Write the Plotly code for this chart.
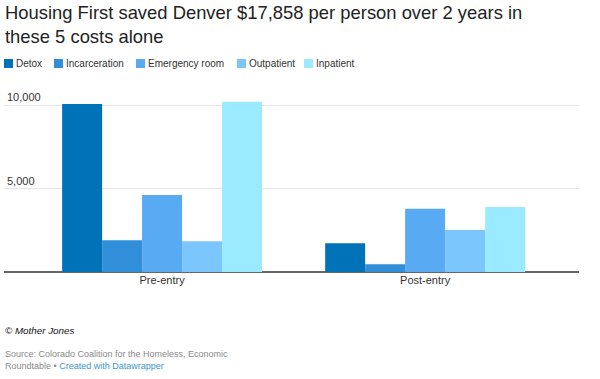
import plotly.graph_objects as go

categories = ["Pre-entry", "Post-entry"]
series_names = ["Detox", "Incarceration", "Emergency room", "Outpatient", "Inpatient"]
detox = [10060, 1720]
incarceration = [1900, 460]
emergency_room = [4610, 3790]
outpatient = [1840, 2510]
inpatient = [10200, 3890]
series_values = [detox, incarceration, emergency_room, outpatient, inpatient]
colors = ["#0072B8", "#318FDA", "#58AAF2", "#7CC6FE", "#9AEBFF"]
ytick_vals = [5000, 10000]
ytick_text = ["5,000", "10,000"]

W, H = 600, 379
L, R, T, B = 4, 21, 85, 107
FONT = "Liberation Sans"

fig = go.Figure()
for name, vals, col in zip(series_names, series_values, colors):
    fig.add_trace(go.Bar(x=categories, y=vals, name=name, marker_color=col,
                         marker_line_width=0, showlegend=False))

pw = W - L - R
ph = H - T - B
def px_x(p):
    return (p - L) / pw
def px_y(p):
    return (H - B - p) / ph

annotations = []
shapes = []
# title
annotations.append(dict(text="Housing First saved Denver $17,858 per person over 2 years in<br>these 5 costs alone",
                        xref="paper", yref="paper", x=px_x(3), y=px_y(0), xanchor="left", yanchor="top",
                        showarrow=False, align="left",
                        font=dict(family=FONT, size=18.4, color="#222")))
# legend
leg_x = [4, 54, 136, 237, 304]
for name, col, lx in zip(series_names, colors, leg_x):
    shapes.append(dict(type="rect", xref="paper", yref="paper",
                       x0=px_x(lx), x1=px_x(lx + 9), y0=px_y(68), y1=px_y(59),
                       fillcolor=col, line_width=0))
    annotations.append(dict(text=name, xref="paper", yref="paper", x=px_x(lx + 10), y=px_y(63.5),
                            xanchor="left", yanchor="middle", showarrow=False,
                            font=dict(family=FONT, size=10, color="#333")))
# footer
annotations.append(dict(text="<i>© Mother Jones</i>", xref="paper", yref="paper", x=px_x(3), y=px_y(330),
                        xanchor="left", yanchor="middle", showarrow=False,
                        font=dict(family=FONT, size=9.8, color="#111")))
annotations.append(dict(text="Source: Colorado Coalition for the Homeless, Economic<br>Roundtable • <span style='color:#3a97d4'>Created with Datawrapper</span>",
                        xref="paper", yref="paper", x=px_x(3), y=px_y(347), xanchor="left", yanchor="top",
                        showarrow=False, align="left",
                        font=dict(family=FONT, size=9, color="#8a8a8a")))

fig.update_layout(
    width=W, height=H, margin=dict(l=L, r=R, t=T, b=B),
    paper_bgcolor="white", plot_bgcolor="white",
    barmode="group", bargap=0.24, bargroupgap=0,
    font=dict(family=FONT, size=11, color="#333"),
    annotations=annotations, shapes=shapes,
    xaxis=dict(type="category", range=[-0.601, 1.585], showgrid=False, showline=False,
               ticks="", tickfont=dict(size=11, color="#333")),
    yaxis=dict(range=[0, 11200], tickvals=ytick_vals, ticktext=ytick_text,
               showgrid=True, gridcolor="#e6e6e6", gridwidth=1,
               zeroline=True, zerolinecolor="#666", zerolinewidth=1.5,
               showline=False, ticks="", ticklabelposition="inside top",
               tickfont=dict(size=11, color="#333")),
)
fig.write_html("out.html", config={"displayModeBar": False},
               post_script="document.body.style.margin='0';document.body.style.padding='0';")
